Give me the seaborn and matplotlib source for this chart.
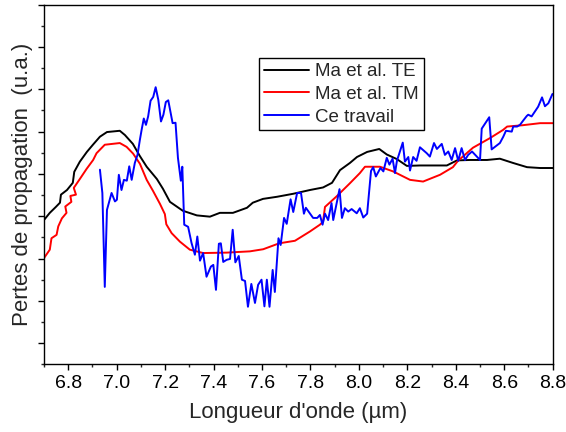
import matplotlib
matplotlib.use("Agg")
import matplotlib.pyplot as plt
import seaborn as sns
import pandas as pd
from matplotlib.ticker import MultipleLocator, NullFormatter

sns.set_style("ticks")
plt.rcParams['font.family'] = ['Liberation Sans', 'DejaVu Sans']

# Ma et al. TE
te_x = [6.700, 6.724, 6.749, 6.766, 6.770, 6.795, 6.819, 6.825, 6.848, 6.877, 6.902, 6.931, 6.960,
        7.013, 7.034, 7.067, 7.095, 7.124, 7.166, 7.191, 7.220, 7.273, 7.331, 7.385, 7.426, 7.480,
        7.538, 7.562, 7.604, 7.662, 7.728, 7.798, 7.852, 7.889, 7.922, 7.963, 7.992, 8.034, 8.084,
        8.115, 8.157, 8.198, 8.252, 8.363, 8.405, 8.459, 8.529, 8.582, 8.636, 8.694, 8.748, 8.800]
te_y = [2.91, 3.08, 3.22, 3.32, 3.51, 3.62, 3.79, 4.05, 4.29, 4.52, 4.69, 4.88, 4.99,
        5.02, 4.92, 4.71, 4.43, 4.17, 3.88, 3.65, 3.34, 3.13, 3.02, 2.99, 3.08, 3.08,
        3.20, 3.32, 3.41, 3.46, 3.53, 3.62, 3.68, 3.79, 4.09, 4.26, 4.40, 4.52, 4.59,
        4.46, 4.35, 4.19, 4.20, 4.20, 4.32, 4.33, 4.33, 4.36, 4.26, 4.16, 4.14, 4.14]

# Ma et al. TM
tm_x = [6.700, 6.724, 6.731, 6.752, 6.759, 6.774, 6.793, 6.788, 6.813, 6.809, 6.832, 6.823, 6.848,
        6.876, 6.903, 6.917, 6.951, 7.013, 7.041, 7.068, 7.096, 7.124, 7.150, 7.179, 7.199, 7.205,
        7.227, 7.261, 7.302, 7.357, 7.454, 7.550, 7.605, 7.671, 7.736, 7.798, 7.839, 7.852, 7.860,
        7.908, 7.963, 8.004, 8.025, 8.087, 8.141, 8.211, 8.265, 8.335, 8.388, 8.409, 8.471, 8.542,
        8.595, 8.612, 8.674, 8.748, 8.800]
tm_y = [2.01, 2.21, 2.48, 2.56, 2.76, 2.95, 3.08, 3.23, 3.34, 3.48, 3.51, 3.67, 3.88,
        4.12, 4.33, 4.49, 4.69, 4.73, 4.64, 4.48, 4.24, 3.86, 3.60, 3.29, 3.05, 2.81,
        2.60, 2.40, 2.21, 2.13, 2.14, 2.17, 2.22, 2.36, 2.42, 2.64, 2.80, 2.87, 3.22,
        3.47, 3.78, 4.02, 4.17, 4.17, 4.06, 3.86, 3.82, 3.98, 4.16, 4.31, 4.62, 4.85,
        5.04, 5.12, 5.15, 5.20, 5.20]

# Ce travail
ct_x = [6.931, 6.941, 6.951, 6.960, 6.979, 6.993, 7.001, 7.009, 7.020, 7.030, 7.042, 7.052, 7.062,
        7.075, 7.086, 7.096, 7.103, 7.112, 7.121, 7.130, 7.140, 7.151, 7.161, 7.172, 7.183, 7.193,
        7.203, 7.213, 7.223, 7.231, 7.243, 7.253, 7.265, 7.271, 7.279, 7.295, 7.309, 7.323, 7.333,
        7.344, 7.357, 7.371, 7.389, 7.399, 7.410, 7.422, 7.430, 7.440, 7.454, 7.468, 7.479, 7.490,
        7.504, 7.517, 7.530, 7.542, 7.556, 7.571, 7.584, 7.598, 7.610, 7.620, 7.631, 7.644, 7.653,
        7.668, 7.677, 7.691, 7.702, 7.718, 7.729, 7.745, 7.761, 7.773, 7.781, 7.811, 7.828, 7.839,
        7.850, 7.860, 7.873, 7.887, 7.894, 7.920, 7.930, 7.942, 7.956, 7.970, 7.991, 8.004, 8.018,
        8.034, 8.050, 8.059, 8.070, 8.089, 8.101, 8.115, 8.126, 8.139, 8.149, 8.157, 8.181, 8.190,
        8.204, 8.211, 8.224, 8.238, 8.252, 8.280, 8.293, 8.310, 8.322, 8.342, 8.355, 8.369, 8.383,
        8.397, 8.410, 8.424, 8.438, 8.451, 8.467, 8.500, 8.507, 8.538, 8.548, 8.582, 8.596, 8.607,
        8.631, 8.637, 8.653, 8.665, 8.678, 8.693, 8.699, 8.713, 8.727, 8.740, 8.756, 8.768, 8.782,
        8.799]
ct_y = [4.10, 3.55, 1.33, 3.15, 3.55, 3.35, 3.39, 3.98, 3.62, 3.86, 3.84, 4.18, 3.86,
        4.26, 4.45, 4.81, 5.04, 5.31, 5.16, 5.36, 5.73, 5.82, 6.05, 5.75, 5.24, 5.40,
        5.70, 5.74, 5.44, 5.20, 5.21, 4.38, 3.84, 4.17, 2.80, 2.75, 2.37, 2.09, 2.52,
        1.95, 2.13, 1.57, 1.81, 1.85, 1.26, 2.35, 2.36, 1.92, 1.97, 1.99, 2.68, 1.91,
        2.06, 1.50, 1.47, 0.86, 1.40, 0.95, 1.38, 1.50, 0.87, 1.50, 0.86, 1.73, 1.21,
        2.48, 2.32, 2.96, 2.82, 3.40, 3.10, 3.55, 3.55, 3.06, 3.20, 2.96, 2.96, 3.03,
        2.80, 3.06, 2.91, 3.31, 2.91, 3.64, 2.96, 3.19, 3.11, 3.17, 3.07, 3.19, 2.97,
        3.06, 4.07, 4.16, 3.94, 4.14, 4.06, 4.38, 4.22, 4.36, 4.02, 4.31, 4.74, 4.29,
        4.40, 4.08, 4.40, 4.31, 4.63, 4.49, 4.41, 4.73, 4.59, 4.71, 4.45, 4.53, 4.33,
        4.61, 4.31, 4.61, 4.33, 4.45, 4.53, 4.33, 5.07, 5.34, 4.58, 4.73, 4.88, 5.02,
        5.00, 5.12, 5.12, 5.16, 5.26, 5.37, 5.40, 5.36, 5.48, 5.59, 5.81, 5.60, 5.67,
        5.89]

series_names = ["Ma et al. TE", "Ma et al. TM", "Ce travail"]
series_colors = ["#000000", "#ff0000", "#0000ff"]

df = pd.concat([
    pd.DataFrame({"x": te_x, "y": te_y, "s": series_names[0]}),
    pd.DataFrame({"x": tm_x, "y": tm_y, "s": series_names[1]}),
    pd.DataFrame({"x": ct_x, "y": ct_y, "s": series_names[2]}),
], ignore_index=True)

fig = plt.figure(figsize=(5.66, 4.32), dpi=100)
ax = fig.add_axes([0.0777, 0.1567, 0.8988, 0.8324])

sns.lineplot(data=df, x="x", y="y", hue="s", hue_order=series_names,
             palette=series_colors, sort=False, estimator=None,
             linewidth=1.4, ax=ax)

ax.set_xlim(6.7, 8.8)
ax.set_ylim(-0.5, 8.0)
ax.xaxis.set_major_locator(MultipleLocator(0.2))
ax.xaxis.set_minor_locator(MultipleLocator(0.1))
ax.yaxis.set_major_locator(MultipleLocator(1.0))
ax.yaxis.set_minor_locator(MultipleLocator(0.5))
ax.yaxis.set_major_formatter(NullFormatter())
ax.xaxis.set_major_formatter(matplotlib.ticker.FormatStrFormatter('%.1f'))

ax.tick_params(axis='both', which='major', direction='out', length=4, width=1,
               labelsize=14, colors='black', pad=4)
ax.tick_params(axis='both', which='minor', direction='out', length=2.5, width=1)
for sp in ax.spines.values():
    sp.set_visible(True)
    sp.set_linewidth(1.0)
    sp.set_color('black')

ax.set_xlabel("Longueur d'onde (µm)", fontsize=16, labelpad=7)
ax.set_ylabel("Pertes de propagation  (u.a.)", fontsize=16, labelpad=0)

leg = ax.legend(loc='upper left', bbox_to_anchor=(0.423, 0.851), borderaxespad=0,
                fontsize=13.5, frameon=True, fancybox=False, framealpha=1,
                edgecolor='black', handlelength=2.4, handletextpad=0.35,
                labelspacing=0.3, borderpad=0.25)
leg.get_frame().set_linewidth(1.0)

fig.savefig("out.png", dpi=100)
